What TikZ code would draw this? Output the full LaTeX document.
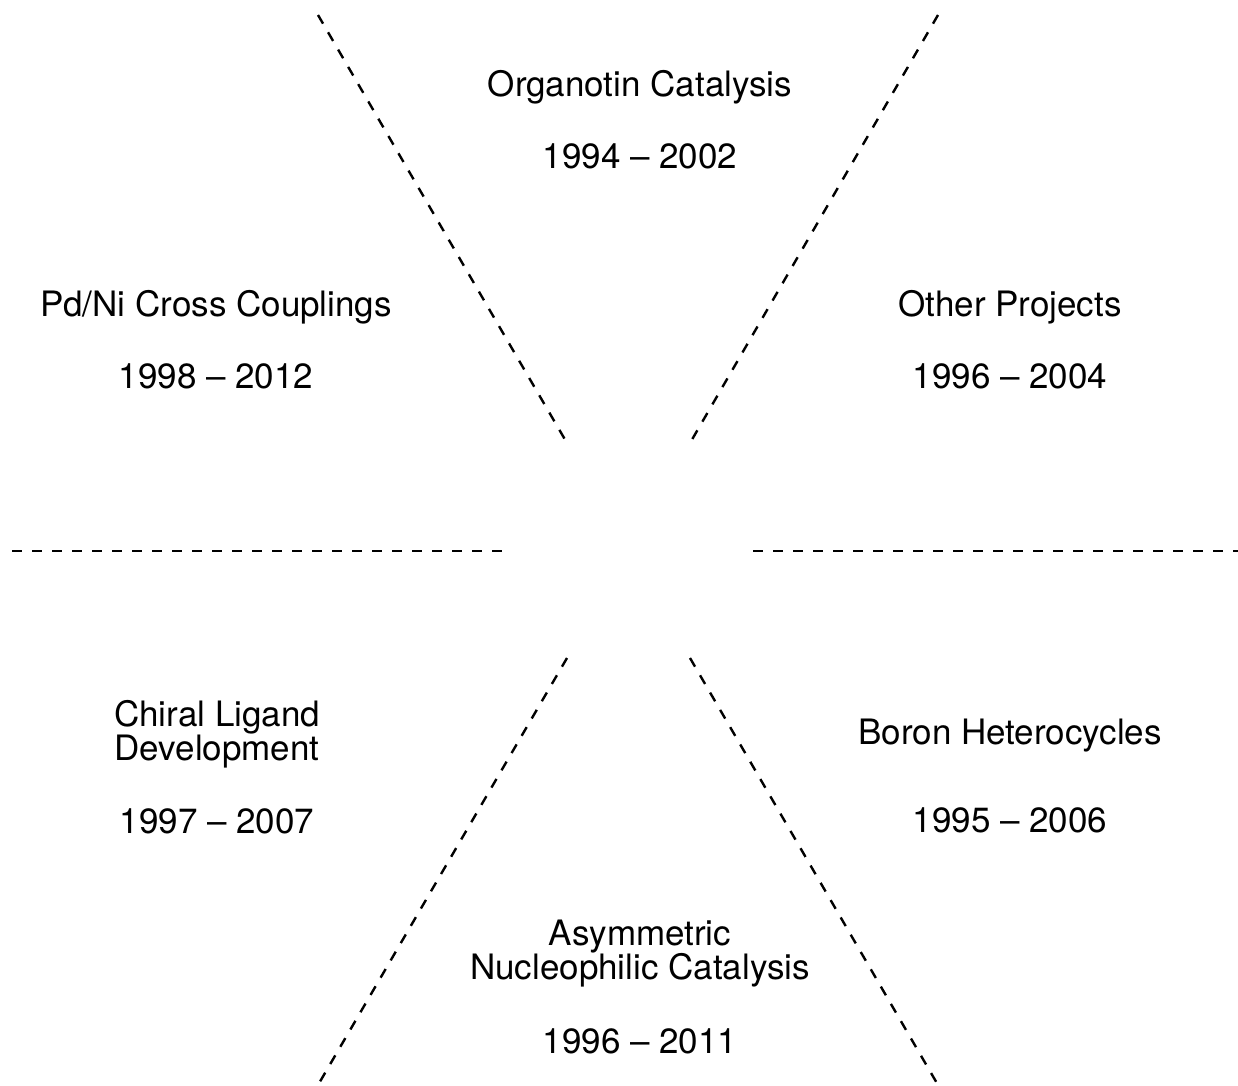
\documentclass[tikz,border=0pt]{standalone}
\usepackage{fontspec}
\setmainfont{TeX Gyre Heros}
\begin{document}
\begin{tikzpicture}[x=1pt,y=-1pt,
  sep/.style={line width=2.4pt, dash pattern=on 10pt off 10pt, black},
  lbl/.style={anchor=base, inner sep=0pt, font=\fontsize{35}{34}\selectfont}]
\useasboundingbox (0,0) rectangle (1238,1085);
% line end points
\coordinate (ulo) at (318,15);   \coordinate (uli) at (567,443);
\coordinate (uro) at (938,15);   \coordinate (uri) at (690,443);
\coordinate (hlo) at (12,551);   \coordinate (hli) at (508,551);
\coordinate (hro) at (1238,551); \coordinate (hri) at (753,551);
\coordinate (llo) at (318,1085); \coordinate (lli) at (567,658);
\coordinate (lro) at (938,1085); \coordinate (lri) at (690,658);
\draw[sep] (ulo) -- (uli);
\draw[sep] (uro) -- (uri);
\draw[sep] (hlo) -- (hli);
\draw[sep] (hri) -- (hro);
\draw[sep] (lli) -- (llo);
\draw[sep] (lri) -- (lro);
% labels
\node[lbl] (org)  at (640,96)   {Organotin Catalysis};
\node[lbl] (orgd) at (640,168)  {1994 \textendash{} 2002};
\node[lbl] (pd)   at (216,316)  {Pd/Ni Cross Couplings};
\node[lbl] (pdd)  at (216,388)  {1998 \textendash{} 2012};
\node[lbl] (oth)  at (1010,316) {Other Projects};
\node[lbl] (othd) at (1010,388) {1996 \textendash{} 2004};
\node[lbl] (chi1) at (217,726)  {Chiral Ligand};
\node[lbl] (chi2) at (217,760)  {Development};
\node[lbl] (chid) at (217,833)  {1997 \textendash{} 2007};
\node[lbl] (bor)  at (1010,744) {Boron Heterocycles};
\node[lbl] (bord) at (1010,832) {1995 \textendash{} 2006};
\node[lbl] (asy1) at (640,945)  {Asymmetric};
\node[lbl] (asy2) at (640,979)  {Nucleophilic Catalysis};
\node[lbl] (asyd) at (640,1053) {1996 \textendash{} 2011};
\end{tikzpicture}
\end{document}
